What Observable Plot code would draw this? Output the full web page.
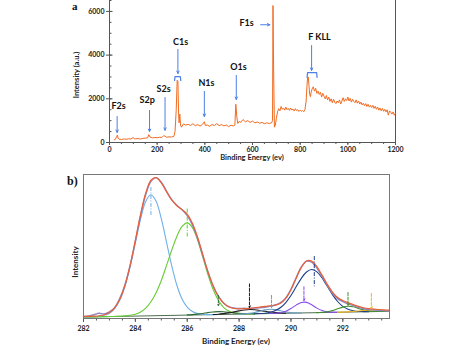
<!DOCTYPE html>
<html><head><meta charset="utf-8">
<script src="https://cdn.jsdelivr.net/npm/d3@7"></script>
<script src="https://cdn.jsdelivr.net/npm/@observablehq/plot@0.6"></script>
<style>
body{margin:0;background:#fff;}
#wrap{position:relative;width:474px;height:351px;overflow:hidden;font-family:Lato,sans-serif;}
#top,#bot{position:absolute;left:0;}
#top{top:0}
#bot{top:172px}
.tag{position:absolute;font-family:"Liberation Serif",serif;font-weight:bold;color:#111;line-height:1;}
.ttl{position:absolute;font-family:Lato,sans-serif;font-weight:bold;font-size:7.5px;line-height:1;color:#222;white-space:nowrap;transform:translate(-50%,-50%);}
.rot{transform:translate(-50%,-50%) rotate(-90deg);}
</style></head><body><div id="wrap"><div id="top"></div><div id="bot"></div>
<div class="tag" style="left:72px;top:1px;font-size:11px">a</div>
<div class="tag" style="left:67px;top:175px;font-size:12px">b)</div>
<div class="ttl" style="left:252px;top:158px">Binding Energy (ev)</div>
<div class="ttl rot" style="left:77px;top:75px">Intensity (a.u.)</div>
<div class="ttl" style="left:236px;top:341px;font-size:8px">Binding Energy (ev)</div>
<div class="ttl rot" style="left:75px;top:262px;font-size:8px">Intensity</div>
</div>
<script>
// ---------- panel a: survey spectrum ----------
const surveyE = [20,25,30,33,36,40,50,60,70,80,90,100,105,110,120,130,140,150,160,165,170,180,190,200,210,220,228,232,240,250,260,270,275,280,284,287,290,292,295,298,302,310,320,330,340,350,360,370,380,390,398,402,410,420,430,440,450,460,470,480,490,500,510,520,526,530,534,538,545,550,560,570,580,590,600,610,620,630,640,650,660,670,680,684,686,689,692,696,
700,705,710,715,720,725,730,735,740,745,750,755,760,765,770,775,780,785,790,795,800,805,810,815,820,825,828,831,834,837,840,843,846,850,855,860,865,870,875,880,885,890,895,900,905,910,915,920,925,930,935,940,945,950,955,960,965,970,975,980,985,990,995,1000,1005,1010,1015,1020,1025,1030,1035,1040,1045,1050,1055,1060,1065,1070,1075,1080,1085,1090,1095,1100,1105,1110,1115,1120,1125,1130,1135,1140,1145,1150,1155,1160,1165,1170,1175,1180,1185,1190,1195,1200];
const surveyI = [120,150,280,340,200,150,140,160,150,170,160,230,160,170,180,160,190,200,210,360,250,210,230,220,240,230,320,290,240,260,250,280,500,1500,2850,2800,1300,900,1300,800,700,850,800,830,780,860,770,820,750,830,950,780,800,740,820,780,860,770,820,760,800,730,790,760,800,1750,1200,870,980,920,1050,950,1000,920,980,900,940,880,920,860,900,870,900,1000,6270,3000,700,800,
1100,1400,1550,1450,1650,1520,1580,1480,1620,1500,1560,1470,1580,1490,1530,1440,1550,1460,1500,1420,1480,1430,1460,1410,1500,1900,2500,2950,3000,2600,2200,2100,2300,2450,2550,2350,2480,2250,2350,2200,2300,2080,2250,2120,2000,2150,1950,2080,1880,2000,1820,1980,1850,1780,1900,1820,1950,1760,1900,2050,1880,2000,1920,2080,1900,2020,1850,1980,1880,1820,1950,1800,1900,1760,1850,1720,1800,1680,1780,1650,1750,1620,1700,1600,1700,1560,1660,1520,1620,1480,1580,1450,1560,1430,1520,1400,1500,1250,1450,1380,1300,1400,1250,1350];

const peakNames = ["F2s","S2p","S2s","C1s","N1s","O1s","F1s","F KLL"];
const nameE = [38,158,227,298,407,541,575,881];
const nameI = [1650,1920,2430,4580,2700,3440,5450,4810];
const arrowE1 = [32,168,233,287,398,532,634,848];
const arrowI1 = [1190,1470,2060,4260,2340,3070,5390,4440];
const arrowE2 = [32,168,233,287,398,532,673,848];
const arrowI2 = [460,500,560,3160,1190,1970,5390,3300];
const bracketE = [273,275,297,299, 829,831,869,871];
const bracketI = [2840,3020,3020,2840, 2980,3200,3200,2980];
const bracketG = ["C1s","C1s","C1s","C1s","F KLL","F KLL","F KLL","F KLL"];
const xTicksA = [0,200,400,600,800,1000,1200];
const xMinorA = [0,50,100,150,200,250,300,350,400,450,500,550,600,650,700,750,800,850,900,950,1000,1050,1100,1150,1200];
const yTicksA = [0,2000,4000,6000];
const yMinorA = [0,500,1000,1500,2000,2500,3000,3500,4000,4500,5000,5500,6000,6500];

// ---------- panel b: C1s high resolution ----------
const bx = [282.0,282.2,282.4,282.6,282.8,283.0,283.2,283.4,283.6,283.8,284.0,284.2,284.4,284.6,284.8,285.0,285.2,285.4,285.6,285.8,286.0,286.2,286.4,286.6,286.8,287.0,287.2,287.4,287.6,287.8,288.0,288.2,288.4,288.6,288.8,289.0,289.2,289.4,289.6,289.8,290.0,290.2,290.4,290.6,290.8,291.0,291.2,291.4,291.6,291.8,292.0,292.2,292.4,292.6,292.8,293.0,293.2,293.4,293.6,293.8];
const measured = [1.3,1.8,2.6,3.6,3.2,4.6,7.5,14.0,23.5,37.0,53.5,71.0,86.0,95.0,97.8,94.6,88.5,82.5,78.6,75.5,71.5,65.0,55.4,43.6,32.3,22.6,15.5,10.8,8.3,7.3,6.9,7.1,7.0,7.3,7.4,7.8,8.6,9.4,11.0,14.3,20.2,28.3,35.6,39.8,39.2,35.0,29.2,23.0,17.5,13.8,11.8,10.2,9.0,7.7,6.8,6.2,5.9,5.6,5.4,5.2];
const envelope = [1.0,1.1,1.24,1.5,2.2,3.75,6.9,12.9,22.7,36.7,54.0,71.9,86.7,95.6,97.4,93.7,87.7,81.9,77.9,75.2,72.0,65.8,56.0,44.0,32.0,22.1,14.9,10.3,7.7,6.55,6.24,6.43,6.68,7.03,7.54,8.0,8.34,8.82,10.17,13.58,19.57,27.6,35.1,39.56,39.47,35.61,29.67,23.38,17.96,14.22,12.03,10.59,9.28,8.01,7.04,6.44,6.15,5.83,5.59,5.36];
const baseE = [282.0, 293.8];
const baseI = [1.0, 5.0];
// each component: first index into bx, then its values
const compBlue   = [0,  [1.0,1.1,1.2,1.5,2.2,3.7,6.9,12.8,22.4,36.1,52.7,69.0,81.3,85.9,81.4,69.3,53.1,36.7,23.1,13.6,7.9,4.8,3.4,2.9,2.7,2.7,2.8]];
const compGreen  = [0,  [1.0,1.07,1.14,1.2,1.27,1.35,1.44,1.57,1.79,2.2,3.0,4.55,7.2,11.6,17.9,26.4,36.7,47.4,57.0,63.9,66.4,63.1,54.5,42.7,30.4,20.1,12.7,7.8,5.2,3.9,3.4,3.2,3.2,3.24]];
const compDkGreen= [20, [2.5,2.7,3.05,3.5,4.1,4.5,4.8,4.7,4.35,3.9,3.6,3.4,3.3,3.24]];
const compBlack  = [25, [2.8,3.0,3.4,3.9,4.6,5.3,5.9,6.2,6.05,5.6,5.0,4.5,4.1,3.85,3.76]];
const compTeal   = [30, [3.05,3.23,3.57,4.2,5.1,6.0,6.44,6.16,5.4,4.6,4.1,3.9,3.85]];
const compNavy   = [33, [3.27,3.42,3.7,4.3,5.5,7.6,11.1,16.0,22.0,27.9,32.3,34.0,32.4,28.1,22.4,16.6,11.8,8.4,6.4,5.4,4.9,4.8,4.75]];
const compPurple = [36, [3.44,3.6,4.0,5.0,6.9,9.3,11.1,11.2,9.5,7.2,5.5,4.6,4.4,4.32]];
const compGreen2 = [45, [4.05,4.3,4.7,5.55,6.75,7.9,8.5,8.1,7.0,6.0,5.3,5.0,4.88,4.94]];
const compYellow = [49, [4.32,4.45,4.6,4.9,5.25,5.6,5.9,6.0,5.8,5.6,5.4]];
const markerE   = [284.6, 286.0, 287.2, 288.4, 289.25, 290.9, 290.5, 292.2, 293.1];
const markerTop = [91, 76, 16, 24, 16, 43, 22, 18, 17.4];
const markerBot = [71.5, 55.6, 9, 7.6, 7.6, 22, 12.5, 9, 7];
const markerHead= [false,false,true,true,true,false,true,true,true];
const xTicksB = [282,284,286,288,290,292];
const xMinorB = [282,282.5,283,283.5,284,284.5,285,285.5,286,286.5,287,287.5,288,288.5,289,289.5,290,290.5,291,291.5,292,292.5,293,293.5];

// ---------- styles ----------
const C = {
  survey:"#f26b21", arrow:"#4c80e6", axis:"#555",
  blue:"#6fb0ea", green:"#66cc33", dkgreen:"#2f6b35", black:"#1a1a1a", teal:"#6f9fc0",
  navy:"#1d3f8c", purple:"#8a4bf0", green2:"#3f8f2a", yellow:"#f2b21a",
  base:"#4e6e52", env:"#e9603a", meas:"#8f86bd"
};
const compColors = [C.blue,C.green,C.dkgreen,C.black,C.teal,C.navy,C.purple,C.green2,C.yellow];
const comps = [compBlue,compGreen,compDkGreen,compBlack,compTeal,compNavy,compPurple,compGreen2,compYellow];
const fmt = d3.format("d");

const survey = surveyE.map((e,i)=>({e, v: surveyI[i]}));
const names = peakNames.map((n,i)=>({n, e:nameE[i], v:nameI[i]}));
const arrows = arrowE1.map((e,i)=>({x1:e, y1:arrowI1[i], x2:arrowE2[i], y2:arrowI2[i]}));
const brackets = bracketE.map((e,i)=>({e, v:bracketI[i], g:bracketG[i]}));

const topPlot = Plot.plot({
  width:474, height:172, marginLeft:109, marginRight:79, marginTop:0, marginBottom:30,
  x:{domain:[0,1200]}, y:{domain:[0,6500]},
  style:{fontFamily:"Lato, sans-serif", fontSize:"7px", fontWeight:"bold", color:"#222", background:"transparent"},
  marks:[
    Plot.axisX({ticks:xTicksA, tickSize:3, tickPadding:1.5, tickFormat:fmt, label:null, stroke:C.axis}),
    Plot.axisX({ticks:xMinorA, tickSize:2, tickFormat:()=>"", label:null, stroke:C.axis}),
    Plot.axisY({ticks:yTicksA, tickSize:3, tickPadding:2, tickFormat:fmt, label:null, stroke:C.axis}),
    Plot.axisY({ticks:yMinorA, tickSize:-2.5, tickFormat:()=>"", label:null, stroke:C.axis}),
    Plot.axisY({ticks:yTicksA, tickSize:-3.5, tickFormat:()=>"", label:null, stroke:C.axis}),
    Plot.ruleX([0,1200], {stroke:C.axis, strokeWidth:1}),
    Plot.ruleY([0], {stroke:C.axis, strokeWidth:1}),
    Plot.line(survey, {x:"e", y:"v", stroke:C.survey, strokeWidth:1}),
    Plot.arrow(arrows, {x1:"x1", y1:"y1", x2:"x2", y2:"y2", stroke:C.arrow, strokeWidth:1, headLength:4, headAngle:50}),
    Plot.line(brackets, {x:"e", y:"v", z:"g", stroke:C.arrow, strokeWidth:1.2}),
    Plot.text(names, {x:"e", y:"v", text:"n", fontSize:9, fontWeight:"bold", fill:"#111"})
  ]
});
document.getElementById("top").append(topPlot);

const meas = bx.map((e,i)=>({e, v:measured[i]}));
const env = bx.map((e,i)=>({e, v:envelope[i]}));
const base = baseE.map((e,i)=>({e, v:baseI[i]}));
const compData = comps.flatMap(([s, vals], k)=> vals.map((v,i)=>({e:bx[s+i], v, k, c:compColors[k]})));
const markers = markerE.map((e,i)=>({e, y1:markerTop[i], y2:markerBot[i], c:compColors[i], h:markerHead[i]}));

const botPlot = Plot.plot({
  width:474, height:179, marginLeft:83, marginRight:85, marginTop:2, marginBottom:33,
  x:{domain:[282,293.8]}, y:{domain:[0,100], axis:null},
  style:{fontFamily:"Lato, sans-serif", fontSize:"7px", fontWeight:"bold", color:"#222", background:"transparent"},
  marks:[
    Plot.axisX({ticks:xTicksB, tickSize:4, tickPadding:4, tickFormat:fmt, label:null, stroke:C.axis}),
    Plot.axisX({ticks:xMinorB, tickSize:2.5, tickFormat:()=>"", label:null, stroke:C.axis}),
    Plot.line(base, {x:"e", y:"v", stroke:C.base, strokeWidth:1}),
    Plot.line(compData, {x:"e", y:"v", z:"k", stroke:"c", strokeWidth:1.1, curve:"catmull-rom"}),
    Plot.line(meas, {x:"e", y:"v", stroke:C.meas, strokeWidth:1.4, curve:"catmull-rom"}),
    Plot.line(env, {x:"e", y:"v", stroke:C.env, strokeWidth:1.2, curve:"catmull-rom", dy:-0.6}),
    Plot.ruleX(markers.filter(d=>!d.h), {x:"e", y1:"y1", y2:"y2", stroke:"c", strokeWidth:1, strokeDasharray:"4,1.5,1,1.5"}),
    Plot.arrow(markers.filter(d=>d.h), {x1:"e", x2:"e", y1:"y1", y2:"y2", stroke:"c", strokeWidth:1, headLength:3, headAngle:60, strokeDasharray:"3,1.5"}),
    Plot.frame({stroke:"#777", strokeWidth:1})
  ]
});
document.getElementById("bot").append(botPlot);
</script></body></html>
